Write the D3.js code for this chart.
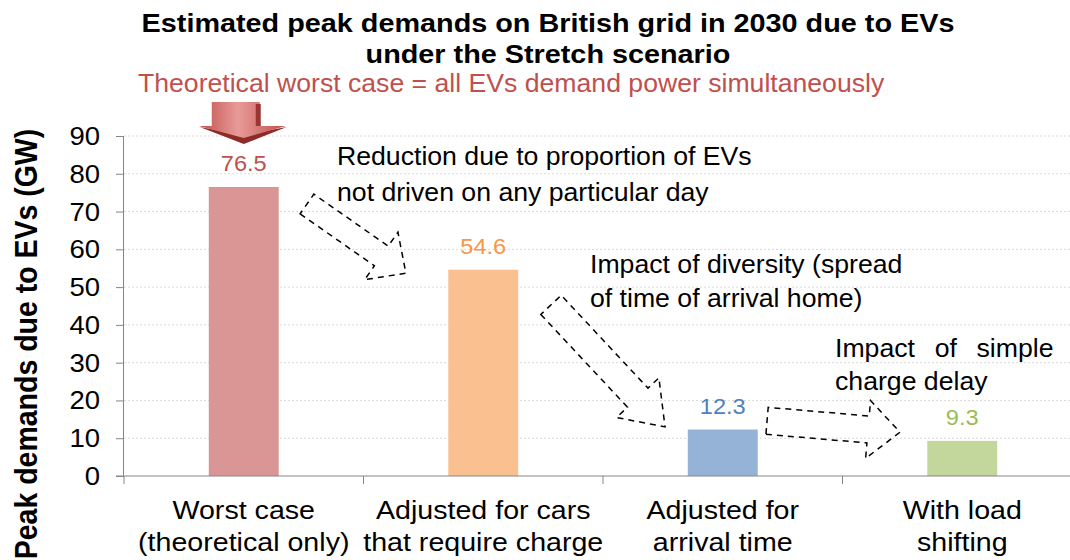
<!DOCTYPE html>
<html lang="en">
<head>
<meta charset="UTF-8">
<title>Peak demands due to EVs</title>
<script src="https://cdn.jsdelivr.net/npm/d3@7"></script>
<style>
  body { margin: 0; background: #fff; }
  svg { display: block; font-family: "Liberation Sans", Arial, sans-serif; }
</style>
</head>
<body>
<script>
// chart data
const categories = [
  ["Worst case", "(theoretical only)"],
  ["Adjusted for cars", "that require charge"],
  ["Adjusted for", "arrival time"],
  ["With load", "shifting"]
];
const values = [76.5, 54.6, 12.3, 9.3];
const barColors = ["#d99694", "#fac090", "#95b3d7", "#c3d69b"];
const labelColors = ["#c0504d", "#f79646", "#4f81bd", "#9bbb59"];
const yTicks = [0, 10, 20, 30, 40, 50, 60, 70, 80, 90];

// dashed arrows between bars: from/to as [category position, GW]
const arrows = [
  { from: [0.764, 72.0], to: [1.177, 53.7], shaft: 24, head: 58, headLen: 30 },
  { from: [1.783, 45.3], to: [2.259, 13.0], shaft: 28, head: 58, headLen: 40 },
  { from: [2.685, 14.6], to: [3.240, 11.6], shaft: 27, head: 58, headLen: 32 }
];

const width = 1070, height = 560;
const plot = { left: 124, right: 1082, top: 136, bottom: 476 };

const svg = d3.select("body").append("svg")
  .attr("width", width)
  .attr("height", height);

const x = d3.scaleBand()
  .domain(d3.range(categories.length))
  .range([plot.left, plot.right])
  .paddingInner(0.708)
  .paddingOuter(0.354);

const xPos = d3.scaleLinear().domain([0, categories.length]).range([plot.left, plot.right]);
const y = d3.scaleLinear().domain([0, 90]).range([plot.bottom, plot.top]);

// text helper, the picture is slightly wider than tall so text gets a small x stretch
function txt(g, px, py, s, o) {
  return g.append("text")
    .attr("transform", `translate(${px},${py}) scale(${o.sx || 1},1)`)
    .attr("text-anchor", o.anchor || "start")
    .attr("font-size", o.size)
    .attr("font-weight", o.bold ? "bold" : null)
    .attr("fill", o.color || "#000")
    .style("word-spacing", o.ws ? o.ws + "px" : null)
    .text(s);
}

// gridlines
svg.append("g")
  .selectAll("line")
  .data(yTicks.filter(d => d > 0))
  .join("line")
  .attr("x1", plot.left).attr("x2", plot.right)
  .attr("y1", d => y(d)).attr("y2", d => y(d))
  .attr("stroke", "#d9d9d9")
  .attr("stroke-width", 1)
  .attr("stroke-dasharray", "2,2");

// bars
svg.append("g")
  .selectAll("rect")
  .data(values)
  .join("rect")
  .attr("x", (d, i) => x(i))
  .attr("y", d => y(d))
  .attr("width", x.bandwidth())
  .attr("height", d => y(0) - y(d))
  .attr("fill", (d, i) => barColors[i]);

// axes
const yAxis = svg.append("g")
  .attr("transform", `translate(${plot.left},0)`)
  .call(d3.axisLeft(y).tickValues(yTicks).tickSize(8).tickFormat(""));
yAxis.select(".domain").attr("stroke", "#868686").attr("d", `M-0.5,${plot.top}V${plot.bottom}`);
yAxis.selectAll(".tick line").attr("stroke", "#868686");

const xAxis = svg.append("g")
  .attr("transform", `translate(0,${plot.bottom})`);
xAxis.append("line")
  .attr("x1", plot.left - 8).attr("x2", plot.right)
  .attr("stroke", "#868686");
xAxis.selectAll(".xt")
  .data(d3.range(categories.length + 1))
  .join("line")
  .attr("class", "xt")
  .attr("x1", d => xPos(d)).attr("x2", d => xPos(d))
  .attr("y1", 0).attr("y2", 8)
  .attr("stroke", "#868686");

// y tick labels
yTicks.forEach(t => txt(svg, 100, y(t) + 9, t, { anchor: "end", size: 25, sx: 1.1 }));

// category labels
categories.forEach((lines, i) => {
  const cx = x(i) + x.bandwidth() / 2;
  lines.forEach((l, j) => txt(svg, cx, 519 + j * 32, l, { anchor: "middle", size: 26, sx: 1.1 }));
});

// value labels
values.forEach((v, i) => {
  txt(svg, x(i) + x.bandwidth() / 2, y(v) - 16, v.toFixed(1),
    { anchor: "middle", size: 22.5, sx: 1.05, color: labelColors[i] });
});

// y axis title
svg.append("text")
  .attr("transform", `translate(37,344) scale(1.1,1) rotate(-90)`)
  .attr("text-anchor", "middle")
  .attr("font-size", 28.5)
  .attr("font-weight", "bold")
  .text("Peak demands due to EVs (GW)");

// title and subtitle
txt(svg, 548, 32, "Estimated peak demands on British grid in 2030 due to EVs", { anchor: "middle", size: 25.5, bold: true, sx: 1.13 });
txt(svg, 548, 63, "under the Stretch scenario", { anchor: "middle", size: 25.5, bold: true, sx: 1.13 });
txt(svg, 138, 92, "Theoretical worst case = all EVs demand power simultaneously", { size: 25, sx: 1.065, color: "#c0504d" });

// annotations
txt(svg, 337, 165, "Reduction due to proportion of EVs", { size: 26, sx: 1.025 });
txt(svg, 337, 201, "not driven on any particular day", { size: 26, sx: 1.025 });
txt(svg, 590, 273, "Impact of diversity (spread", { size: 26, sx: 1.025 });
txt(svg, 590, 307, "of time of arrival home)", { size: 26, sx: 1.025 });
txt(svg, 835, 357, "Impact of simple", { size: 26, sx: 1.025, ws: 12 });
txt(svg, 835, 390, "charge delay", { size: 26, sx: 1.025 });

// dashed block arrows
function blockArrow(x1, y1, x2, y2, sw, hw, hl) {
  const dx = x2 - x1, dy = y2 - y1, len = Math.hypot(dx, dy);
  const ux = dx / len, uy = dy / len, nx = -uy, ny = ux;
  const b = len - hl;
  const pts = [
    [0, sw / 2], [b, sw / 2], [b, hw / 2], [len, 0],
    [b, -hw / 2], [b, -sw / 2], [0, -sw / 2]
  ];
  return pts.map(([a, c]) => [x1 + ux * a + nx * c, y1 + uy * a + ny * c]);
}

svg.append("g")
  .selectAll("path")
  .data(arrows)
  .join("path")
  .attr("d", d => d3.line()(blockArrow(xPos(d.from[0]), y(d.from[1]), xPos(d.to[0]), y(d.to[1]), d.shaft, d.head, d.headLen)) + "Z")
  .attr("fill", "none")
  .attr("stroke", "#000")
  .attr("stroke-width", 1.5)
  .attr("stroke-dasharray", "6,5");

// red "worst case" arrow above the first bar
const defs = svg.append("defs");
const grad = defs.append("linearGradient").attr("id", "redGrad")
  .attr("x1", 0).attr("y1", 0).attr("x2", 1).attr("y2", 0);
grad.append("stop").attr("offset", "0%").attr("stop-color", "#c0504d");
grad.append("stop").attr("offset", "45%").attr("stop-color", "#e89a98");
grad.append("stop").attr("offset", "100%").attr("stop-color", "#c0504d");

const ax = x(0) + x.bandwidth() / 2;
const red = svg.append("g").attr("transform", `translate(${ax},0)`);
// dark underside
red.append("path")
  .attr("d", "M-44,127 L0,135 L43,127 L0,144 Z")
  .attr("fill", "#8c2b28");
red.append("path")
  .attr("d", "M-32,102 H16 V126 H42 L0,138 L-45,126 H-32 Z")
  .attr("fill", "url(#redGrad)");
red.append("rect")
  .attr("x", 12).attr("y", 104).attr("width", 5).attr("height", 22)
  .attr("fill", "#9b3532");
</script>
</body>
</html>
